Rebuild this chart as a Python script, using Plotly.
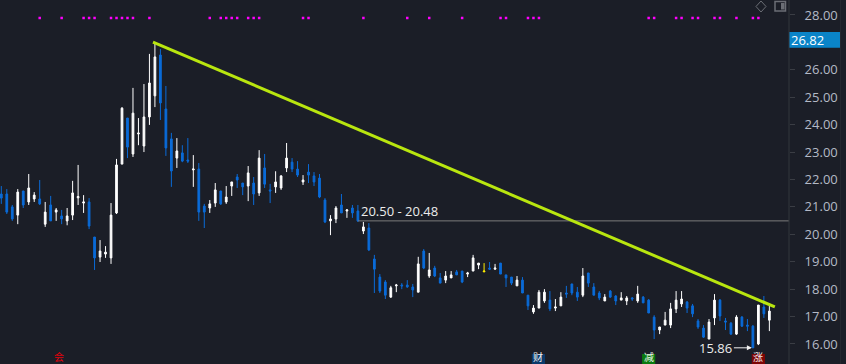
import plotly.graph_objects as go

highs = [21.76,21.65,21.07,21.65,21.58,22.20,21.54,21.98,21.18,21.40,20.96,20.89,20.96,21.95,22.53,21.43,21.32,19.90,19.79,19.57,
21.14,22.75,24.64,24.24,25.34,24.24,25.48,26.58,26.98,26.76,25.41,23.70,23.51,23.25,23.51,22.89,22.60,21.11,21.25,21.87,
21.58,21.76,21.91,22.20,21.87,22.49,22.09,23.07,22.93,21.84,22.30,22.16,23.33,22.78,22.67,22.16,22.56,22.27,22.20,21.32,
20.70,21.03,21.47,20.92,21.07,21.07,20.45,20.41,19.25,18.55,18.33,18.12,18.19,18.22,18.33,18.19,19.18,19.46,19.32,18.85,
18.59,18.66,18.66,18.70,18.66,18.63,19.25,18.95,18.95,18.99,18.92,18.95,18.52,18.44,18.48,18.44,17.78,17.42,17.97,18.00,
17.93,17.64,17.89,18.12,18.19,18.08,18.77,18.59,18.22,17.93,17.82,17.97,17.78,17.89,17.75,17.71,18.12,17.75,17.64,17.05,
16.62,17.17,17.50,17.93,17.93,17.57,17.46,16.91,16.69,16.91,17.82,17.64,16.95,16.80,17.05,17.02,16.91,16.69,17.42,17.75,17.39]
body_tops = [21.47,21.47,21.00,21.54,21.58,21.69,21.43,21.29,20.81,21.07,20.89,20.67,20.67,21.51,21.38,21.18,21.18,19.90,19.39,19.35,
20.70,22.53,24.60,24.24,24.42,23.69,24.28,25.52,26.47,26.54,24.57,23.48,23.04,22.97,22.71,22.38,22.38,21.03,21.11,21.62,
21.58,21.36,21.91,22.09,21.87,22.24,21.87,22.78,22.42,21.62,21.91,22.13,22.78,22.63,22.38,21.98,22.27,22.13,22.05,21.25,
20.56,20.96,21.07,20.89,20.96,20.85,20.27,20.23,19.10,18.44,18.26,18.05,18.15,18.15,18.15,18.08,18.92,19.39,18.70,18.77,
18.41,18.48,18.52,18.63,18.66,18.59,19.14,18.95,18.66,18.77,18.77,18.95,18.52,18.44,18.33,18.33,17.78,17.31,17.89,17.89,
17.60,17.35,17.71,17.86,18.19,17.89,18.48,18.59,18.08,17.86,17.71,17.93,17.75,17.68,17.68,17.68,17.82,17.71,17.60,16.98,
16.62,16.87,17.28,17.60,17.64,17.53,17.39,16.84,16.58,16.80,17.60,17.60,16.84,16.76,16.98,16.98,16.69,16.65,17.42,17.35,17.20]
body_bottoms = [21.32,20.81,20.56,20.70,21.07,21.18,21.29,21.11,20.37,20.49,20.81,20.56,20.49,20.70,21.33,21.14,20.30,19.14,19.17,19.28,
19.14,20.78,22.56,23.18,22.93,23.66,23.22,24.28,25.05,24.79,23.15,22.31,22.78,22.67,22.67,22.35,20.81,20.81,20.96,21.14,
21.11,21.18,21.76,21.98,21.73,21.76,21.47,21.51,21.83,21.58,21.73,21.69,22.42,22.38,22.16,21.91,22.16,21.91,21.36,20.45,
20.49,20.56,20.78,20.85,20.78,20.49,20.12,19.43,18.73,17.93,17.78,17.71,18.12,18.12,18.08,17.97,17.89,18.77,18.48,18.48,
18.22,18.33,18.41,18.52,18.26,18.55,18.66,18.88,18.63,18.73,18.73,18.55,18.41,18.22,18.12,17.86,17.39,17.17,17.31,17.57,
17.28,17.31,17.39,17.82,17.86,17.71,17.78,18.22,17.78,17.68,17.57,17.71,17.57,17.60,17.57,17.64,17.57,17.50,17.13,16.51,
16.51,16.69,16.69,17.28,17.46,17.31,17.10,16.62,16.25,16.18,16.95,17.02,16.80,16.36,16.36,16.65,16.65,15.86,16.00,17.10,16.87]
lows = [21.11,20.74,20.49,20.37,20.96,21.07,21.18,21.07,20.27,20.49,20.49,20.37,20.33,20.52,21.07,20.78,20.19,18.70,18.99,19.14,
18.92,20.74,22.56,22.78,22.82,23.25,23.00,23.99,24.64,24.17,22.86,21.73,22.42,22.63,22.60,21.73,20.49,20.23,20.78,21.00,
21.07,21.11,21.40,21.69,21.43,21.21,21.07,21.40,21.69,21.14,21.51,21.62,22.27,22.27,22.09,21.80,21.87,21.76,21.32,20.41,
19.97,20.41,20.78,20.60,20.60,20.45,20.01,19.39,17.86,17.86,17.64,17.68,17.89,18.00,18.05,17.71,17.89,18.73,18.41,18.44,
18.22,18.22,18.41,18.52,18.22,18.44,18.66,18.73,18.63,18.70,18.70,18.55,18.08,18.15,18.12,17.86,17.24,17.10,17.31,17.50,
17.20,17.20,17.39,17.68,17.78,17.57,17.71,18.08,17.78,17.60,17.57,17.68,17.42,17.60,17.42,17.57,17.50,17.50,17.13,16.18,
16.36,16.69,16.58,17.13,17.35,17.13,16.98,16.55,16.22,16.18,16.69,16.84,16.51,16.33,16.33,16.62,16.47,15.86,15.96,16.95,16.47]
directions = ("BBBWBWWBWBWBWWWWBBWW"
              "WWWBWWWWWBBBWBBWBBWW"
              "BWWBBWBWBBWWWBBWBBBB"
              "WWBWBBWBBBBWWBBBWBWB"
              "BWWBBWWWYBWBBBWBBWWW"
              "BWWBBBWBBBWBBWWBWBBB"
              "WWWWWBBBBWWBBBWBBBWBW")

trend_x = [27.65, 141.0]
trend_y = [27.01, 17.35]
range_x = [65, 143.58]
range_y = [20.49, 20.49]
signal_idx = [7,11,15,16,17,20,21,22,23,24,27,38,40,41,42,43,45,46,47,55,56,66,74,78,84,91,92,96,97,98,
              118,119,123,124,126,127,130,131,134,137,138]
signal_level = 27.89
tick_vals = [28,26,25,24,23,22,21,20,19,18,17,16]
tick_text = ["28.00","26.00","25.00","24.00","23.00","22.00","21.00","20.00","19.00","18.00","17.00","16.00"]
last_price = "26.82"
badge_level = 27.09
range_label = "20.50 - 20.48"
low_label = "15.86"
low_index = 137
low_price = 15.86
event_labels = ["会", "财", "减", "涨"]
event_index = [10.5, 97.9, 118, 138]
event_bg = ["rgba(0,0,0,0)", "#0b3a6b", "#0a7a10", "#7d0505"]
event_fg = ["#e8000a", "#f4f4f4", "#e8f4e8", "#f4e8e8"]

BG = "#1b1e27"
BLUE = "#0a6bd8"
WHITE = "#ffffff"
YELLOW = "#ffee00"
FONT = "Open Sans, Noto Sans, sans-serif"

def candles(code, inc, dec):
    idx = [i for i, d in enumerate(directions) if d in code]
    up = [directions[i] != "B" for i in idx]
    return go.Candlestick(
        x=idx,
        open=[body_bottoms[i] if u else body_tops[i] for i, u in zip(idx, up)],
        close=[body_tops[i] if u else body_bottoms[i] for i, u in zip(idx, up)],
        high=[highs[i] for i in idx],
        low=[lows[i] for i in idx],
        increasing=dict(line=dict(color=inc, width=1), fillcolor=inc),
        decreasing=dict(line=dict(color=dec, width=1), fillcolor=dec),
        whiskerwidth=0,
        showlegend=False,
    )

fig = go.Figure()
fig.add_trace(candles("W", WHITE, WHITE))
fig.add_trace(candles("B", BLUE, BLUE))
fig.add_trace(candles("Y", YELLOW, YELLOW))
fig.add_trace(go.Scatter(x=range_x, y=range_y, mode="lines",
                         line=dict(color="#7c7c7c", width=1), showlegend=False))
fig.add_trace(go.Scatter(x=trend_x, y=trend_y, mode="lines",
                         line=dict(color="#b9e60f", width=3), showlegend=False))
fig.add_trace(go.Scatter(x=signal_idx, y=[signal_level]*len(signal_idx), mode="markers",
                         marker=dict(symbol="square", size=2.5, color="#ff00ff", line=dict(width=0)),
                         showlegend=False))

annotations = [
    dict(x=65, y=20.49, xref="x", yref="y", text=range_label, showarrow=False,
         xanchor="left", yanchor="bottom", xshift=1, yshift=-1,
         font=dict(family=FONT, size=13, color="#ececec")),
    dict(x=low_index, y=low_price, xref="x", yref="y", ax=-19, ay=0, axref="pixel", ayref="pixel",
         text=low_label, showarrow=True, arrowhead=2, arrowsize=1, arrowwidth=1, arrowcolor="#f0f0f0",
         standoff=1, xanchor="right", font=dict(family=FONT, size=13, color="#ececec")),
    dict(x=1, xref="paper", xanchor="left", xshift=1, y=badge_level, yref="y", yanchor="middle",
         text=last_price, showarrow=False, align="left",
         font=dict(family=FONT, size=13, color="#ffffff"), borderpad=0),
]
shapes = [
    dict(type="path", xref="paper", yref="paper",
         path=f"M {761/789} {1-1/364} L {766/789} {1-6.5/364} L {761/789} {1-12/364} L {756/789} {1-6.5/364} Z",
         line=dict(color="#6b6e75", width=1)),
    dict(type="rect", xref="paper", yref="paper", x0=775/789, x1=785.5/789, y0=1-1.5/364, y1=1-11/364,
         line=dict(color="#6b6e75", width=1.5)),
    dict(type="rect", xref="paper", yref="paper", x0=781/789, x1=784.5/789, y0=1-3/364, y1=1-9.5/364,
         fillcolor="#6b6e75", line=dict(width=0)),
    dict(type="line", xref="paper", yref="paper", x0=1, x1=1, y0=0, y1=1, line=dict(color="#33363d", width=1)),
    dict(type="line", xref="paper", yref="paper", x0=840.5/789, x1=840.5/789, y0=0, y1=1, line=dict(color="#24272f", width=1)),
    dict(type="rect", xref="paper", yref="y", x0=1, x1=840/789, y0=badge_level-0.29, y1=badge_level+0.29,
         fillcolor="#0a84c8", line=dict(width=0), layer="below"),
]
for label, ix, bg, fg in zip(event_labels, event_index, event_bg, event_fg):
    shapes.append(dict(type="rect", xref="x", yref="paper", x0=ix-1.2, x1=ix+1.2, y0=0, y1=10/364,
                       fillcolor=bg, line=dict(width=0), layer="above"))
    annotations.append(dict(x=ix, xref="x", y=0, yref="paper", yanchor="bottom", yshift=-1, text=label,
                            showarrow=False, borderpad=0,
                            font=dict(family="Noto Sans CJK SC", size=10, color=fg)))

fig.update_layout(
    width=846, height=364, autosize=False,
    paper_bgcolor=BG, plot_bgcolor=BG,
    margin=dict(l=0, r=57, t=0, b=0),
    boxmode="overlay", boxgap=0.55,
    showlegend=False,
    annotations=annotations, shapes=shapes,
    xaxis=dict(range=[-0.237, 143.58], visible=False, rangeslider=dict(visible=False), fixedrange=True),
    yaxis=dict(range=[15.27, 28.546], side="right", showgrid=False, zeroline=False, showline=False,
               tickmode="array", tickvals=tick_vals, ticktext=tick_text,
               ticks="outside", ticklen=5, tickcolor="#3a3d44", tickwidth=1,
               ticklabelstandoff=7,
               tickfont=dict(family=FONT, size=13, color="#b4bac6")),
)
fig.write_html("out.html", config=dict(displayModeBar=False),
               post_script="document.body.style.margin='0';document.documentElement.style.background='%s';" % BG)
